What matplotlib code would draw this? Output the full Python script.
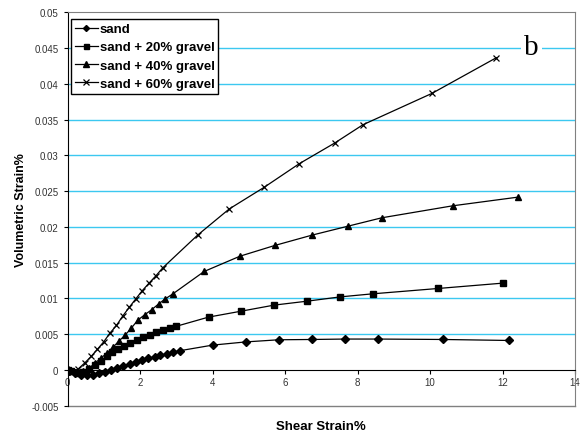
import matplotlib
matplotlib.use('Agg')
from matplotlib import pyplot as plt
from matplotlib.ticker import FuncFormatter

plt.rcParams['font.family'] = ['Liberation Sans', 'DejaVu Sans']

sand_x = [0, 0.04, 0.21, 0.37, 0.54, 0.71, 0.88, 1.03, 1.2, 1.36, 1.53, 1.71, 1.89, 2.06,
          2.22, 2.40, 2.56, 2.74, 2.92, 3.09, 4.0, 4.92, 5.83, 6.74, 7.65, 8.56, 10.37, 12.19]
sand_y = [0, -0.0002, -0.0005, -0.00075, -0.0008, -0.00075, -0.00052, -0.00033, -0.00004,
          0.00018, 0.00052, 0.0008, 0.00107, 0.0013, 0.00158, 0.00182, 0.00205, 0.00224,
          0.00247, 0.00266, 0.00345, 0.0039, 0.0042, 0.00424, 0.0043, 0.0043, 0.00424, 0.0041]

g20_x = [0, 0.1, 0.25, 0.42, 0.58, 0.75, 0.92, 1.08, 1.24, 1.40, 1.57, 1.73, 1.92, 2.09,
         2.28, 2.44, 2.63, 2.82, 2.99, 3.89, 4.79, 5.70, 6.61, 7.52, 8.42, 10.23, 12.02]
g20_y = [0, -0.00024, -0.00042, -0.00028, 0.0001, 0.00066, 0.00126, 0.00186, 0.00242,
         0.0029, 0.00336, 0.00378, 0.00415, 0.00452, 0.0049, 0.00522, 0.0055, 0.00578,
         0.00607, 0.00737, 0.0082, 0.00905, 0.0096, 0.0102, 0.01063, 0.01138, 0.01213]

g40_x = [0, 0.11, 0.27, 0.44, 0.60, 0.76, 0.92, 1.09, 1.25, 1.41, 1.59, 1.76, 1.94, 2.13,
         2.32, 2.51, 2.69, 2.90, 3.77, 4.76, 5.72, 6.75, 7.74, 8.67, 10.63, 12.44]
g40_y = [0, -0.00023, -0.00038, -0.00023, 0.00023, 0.00093, 0.00163, 0.00233, 0.00313,
         0.00397, 0.00486, 0.00583, 0.00695, 0.0077, 0.0084, 0.0092, 0.0099, 0.0106,
         0.01376, 0.0159, 0.0174, 0.01885, 0.0201, 0.02127, 0.02295, 0.02417]

g60_x = [0, 0.13, 0.30, 0.47, 0.65, 0.82, 1.00, 1.17, 1.35, 1.52, 1.70, 1.88, 2.06, 2.25,
         2.44, 2.63, 3.59, 4.46, 5.42, 6.39, 7.37, 8.15, 10.05, 11.83]
g60_y = [0, -0.00033, 0.00014, 0.00093, 0.00186, 0.00284, 0.00392, 0.00513, 0.0062,
         0.0075, 0.00872, 0.0099, 0.01106, 0.01213, 0.01316, 0.01428, 0.01885, 0.0225,
         0.02552, 0.02883, 0.03173, 0.03429, 0.03867, 0.04367]

x_ticks = [0, 2, 4, 6, 8, 10, 12, 14]
y_ticks = [-0.005, 0, 0.005, 0.01, 0.015, 0.02, 0.025, 0.03, 0.035, 0.04, 0.045, 0.05]
grid_levels = [0.005, 0.01, 0.015, 0.02, 0.025, 0.03, 0.035, 0.04, 0.045]

fig = plt.figure(figsize=(5.81, 4.35), dpi=100)
ax = fig.add_axes([0.1162, 0.0655, 0.8735, 0.9035])

for g in grid_levels:
    ax.axhline(g, color='#3CC8F0', lw=1.0, zorder=0)

ax.plot(sand_x, sand_y, color='black', lw=0.9, marker='D', ms=3.8, label='sand')
ax.plot(g20_x, g20_y, color='black', lw=0.9, marker='s', ms=4.5, label='sand + 20% gravel')
ax.plot(g40_x, g40_y, color='black', lw=0.9, marker='^', ms=5, label='sand + 40% gravel')
ax.plot(g60_x, g60_y, color='black', lw=0.9, marker='x', ms=5, mew=0.9, label='sand + 60% gravel')

ax.set_xlim(0, 14)
ax.set_ylim(-0.005, 0.05)
ax.set_xticks(x_ticks)
ax.set_yticks(y_ticks)
ax.yaxis.set_major_formatter(FuncFormatter(lambda v, p: '%g' % round(v, 4)))
ax.xaxis.set_major_formatter(FuncFormatter(lambda v, p: '%g' % v))

ax.spines['bottom'].set_position(('data', 0))
ax.spines['bottom'].set_color('black')
ax.spines['left'].set_color('black')
ax.spines['top'].set_color('#808080')
ax.spines['right'].set_color('#808080')
ax.axhline(-0.005, color='#808080', lw=1.0, clip_on=False)

ax.tick_params(axis='both', direction='out', length=3, labelsize=7, colors='black',
               labelcolor='#333333')
ax.tick_params(axis='x', pad=2)

ax.set_xlabel('Shear Strain%', fontsize=9.5, fontweight='bold')
ax.xaxis.set_label_coords(0.5, -0.036)
ax.set_ylabel('Volumetric Strain%', fontsize=9, fontweight='bold')
ax.yaxis.set_label_coords(-0.08, 0.5)

ax.text(12.8, 0.0452, 'b', family='Liberation Serif', fontsize=21, ha='center', va='center',
        bbox=dict(facecolor='white', edgecolor='none', pad=2))

leg = ax.legend(loc='upper left', bbox_to_anchor=(0.002, 0.99),
                prop={'weight': 'bold', 'size': 9.5}, frameon=True, fancybox=False,
                handlelength=1.7, handletextpad=0.15, borderpad=0.3, labelspacing=0.45,
                borderaxespad=0.2, markerscale=0.8)
leg.get_frame().set_edgecolor('black')
leg.get_frame().set_linewidth(1.0)
leg.get_frame().set_alpha(1)

fig.savefig('out.png', dpi=100)
